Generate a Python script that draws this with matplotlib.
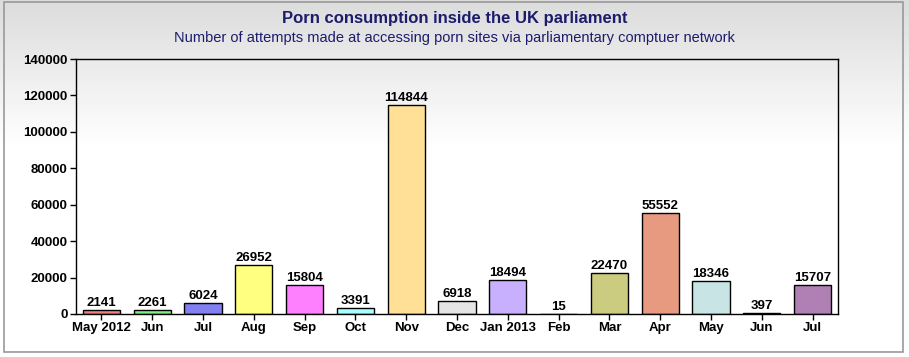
import matplotlib.pyplot as plt
import numpy as np
from matplotlib.patches import Rectangle

plt.rcParams["font.family"] = ["Liberation Sans", "DejaVu Sans"]

# data
months = ["May 2012", "Jun", "Jul", "Aug", "Sep", "Oct", "Nov", "Dec",
          "Jan 2013", "Feb", "Mar", "Apr", "May", "Jun", "Jul"]
attempts = [2141, 2261, 6024, 26952, 15804, 3391, 114844, 6918,
            18494, 15, 22470, 55552, 18346, 397, 15707]
colors = ["#f08080", "#80f080", "#8080f0", "#ffff80", "#ff80ff", "#a8ffff",
          "#ffe096", "#e4e4e4", "#c8b0ff", "#808080", "#cccc80", "#e89a80",
          "#c8e4e4", "#606060", "#b080b4"]
y_ticks = [0, 20000, 40000, 60000, 80000, 100000, 120000, 140000]

fig = plt.figure(figsize=(9.09, 3.57), dpi=100)

# background gradient (grey at top fading to white)
bg = fig.add_axes([0, 0, 1, 1], zorder=-10)
grad = np.ones((357, 1))
grad[:150, 0] = np.linspace(0.86, 1.0, 150)
bg.imshow(grad, aspect="auto", cmap="gray", vmin=0, vmax=1,
          extent=[0, 1, 0, 1], origin="upper")
bg.add_patch(Rectangle((4 / 909, 5 / 357), 899 / 909, 350 / 357,
                       fill=False, edgecolor="#999999", lw=1.2,
                       transform=bg.transAxes))
bg.set_xlim(0, 1)
bg.set_ylim(0, 1)
bg.axis("off")

ax = fig.add_axes([76 / 909, 1 - 314 / 357, 762 / 909, 255 / 357])
ax.patch.set_alpha(0)
x = np.arange(len(months))
ax.bar(x, attempts, width=0.73, color=colors, edgecolor="black", lw=1)
for xi, v in zip(x, attempts):
    ax.text(xi, v + 500, str(v), ha="center", va="bottom",
            fontsize=9.5, fontweight="bold")

ax.set_xlim(-0.5, len(months) - 0.5)
ax.set_ylim(0, 140000)
ax.set_yticks(y_ticks)
ax.set_yticklabels([str(t) for t in y_ticks])
ax.set_xticks(x)
ax.set_xticklabels(months)
ax.tick_params(axis="both", labelsize=9.5, length=4, width=1, pad=2)
for lbl in ax.get_xticklabels() + ax.get_yticklabels():
    lbl.set_fontweight("bold")
for s in ax.spines.values():
    s.set_linewidth(1)

fig.text(0.5, 1 - 19 / 357, "Porn consumption inside the UK parliament",
         ha="center", va="center", fontsize=12, fontweight="bold",
         color="#1c1c6c")
fig.text(0.5, 1 - 38 / 357,
         "Number of attempts made at accessing porn sites via parliamentary comptuer network",
         ha="center", va="center", fontsize=10.5, color="#1c1c6c")

fig.savefig("out.png", dpi=100)
